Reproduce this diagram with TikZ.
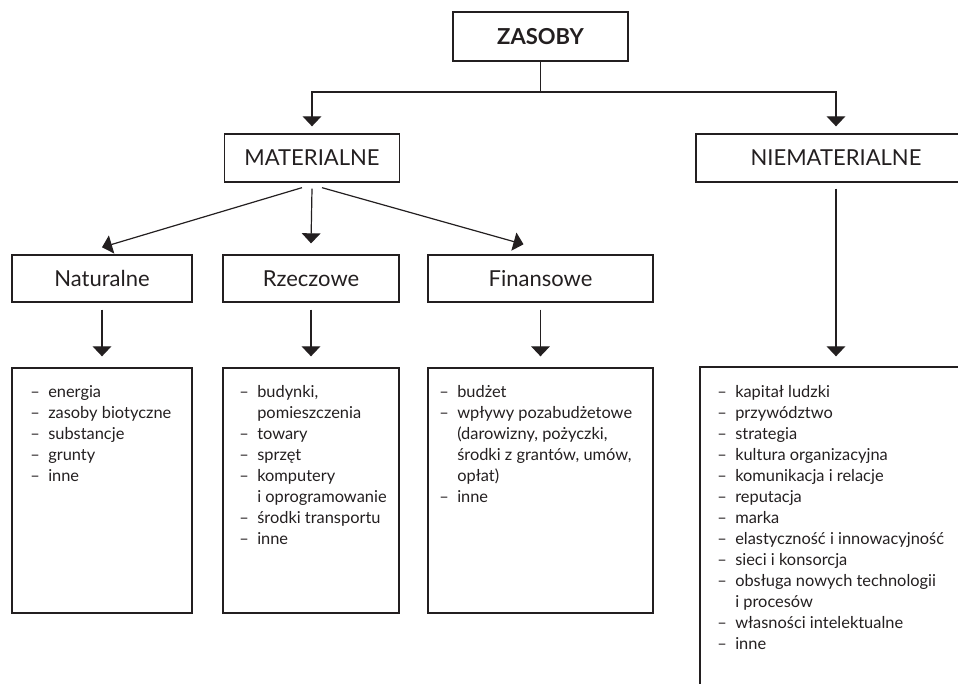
\documentclass[tikz,border=0pt]{standalone}
\usepackage{fontspec}
\setmainfont{Lato}
\usepackage{xcolor}
\usetikzlibrary{arrows.meta}
\newdimen\px \px=0.75pt
\definecolor{ink}{RGB}{35,31,32}

\begin{document}
\begin{tikzpicture}[x=0.75pt, y=-0.75pt,
  box/.style={draw=ink, line width=1pt, minimum height=48\px, inner sep=0pt, text=ink, font=\fontsize{16.5}{20}\selectfont},
  listbox/.style={draw=ink, line width=1pt, inner sep=0pt},
  items/.style={anchor=base west, inner sep=0pt, text=ink, font=\fontsize{12.3}{15.75}\selectfont},
  arr/.style={-{Triangle[width=14pt, length=7.5pt]}, line width=0.9pt, draw=ink}
]
\useasboundingbox (0,0) rectangle (958,684);
\clip (0,0) rectangle (958,684);

\node[box, minimum width=175\px, minimum height=49\px, font=\fontsize{16.5}{20}\selectfont\bfseries] (zas) at (540.5,36.5) {ZASOBY};
\node[box, minimum width=175\px] (mat) at (312,158) {MATERIALNE};
\node[box, minimum width=280\px] (niemat) at (836,158) {NIEMATERIALNE};
\node[box, minimum width=180\px, minimum height=47\px] (nat) at (102,278.5) {Naturalne};
\node[box, minimum width=176\px, minimum height=47\px] (rze) at (311,278.5) {Rzeczowe};
\node[box, minimum width=225\px, minimum height=47\px] (fin) at (540.5,278.5) {Finansowe};

\node[listbox, minimum width=180\px, minimum height=245\px] (natlist) at (102,490.5) {};
\node[listbox, minimum width=176\px, minimum height=245\px] (rzelist) at (311,490.5) {};
\node[listbox, minimum width=225\px, minimum height=245\px] (finlist) at (540.5,490.5) {};
\node[listbox, minimum width=300\px, minimum height=393\px] (nielist) at (850,563.5) {};

\node[items] (natitems) at (30,398) {\begin{tabular}[t]{@{}p{13.5pt}@{}l@{}}
– & energia\\
– & zasoby biotyczne\\
– & substancje\\
– & grunty\\
– & inne
\end{tabular}};
\node[items] (rzeitems) at (239,398) {\begin{tabular}[t]{@{}p{13.5pt}@{}l@{}}
– & budynki,\\
  & pomieszczenia\\
– & towary\\
– & sprzęt\\
– & komputery\\
  & i oprogramowanie\\
– & środki transportu\\
– & inne
\end{tabular}};
\node[items] (finitems) at (439,398) {\begin{tabular}[t]{@{}p{13.5pt}@{}l@{}}
– & budżet\\
– & wpływy pozabudżetowe\\
  & (darowizny, pożyczki,\\
  & środki z grantów, umów,\\
  & opłat)\\
– & inne
\end{tabular}};
\node[items] (nieitems) at (717,398) {\begin{tabular}[t]{@{}p{13.5pt}@{}l@{}}
– & kapitał ludzki\\
– & przywództwo\\
– & strategia\\
– & kultura organizacyjna\\
– & komunikacja i relacje\\
– & reputacja\\
– & marka\\
– & elastyczność i innowacyjność\\
– & sieci i konsorcja\\
– & obsługa nowych technologii\\
  & i procesów\\
– & własności intelektualne\\
– & inne
\end{tabular}};

\coordinate (split) at (540.5,92);
\draw[line width=0.9pt, draw=ink] (zas.south) -- (split);
\draw[arr] (split) -| ([yshift=7\px]mat.north);
\draw[arr] (split) -| ([yshift=7\px]niemat.north);

\draw[arr] ([xshift=-10\px,yshift=-5\px]mat.south) -- ([yshift=7\px]nat.north);
\draw[arr] ([yshift=-6\px]mat.south) -- ([yshift=11\px]rze.north);
\draw[arr] ([xshift=10\px,yshift=-5\px]mat.south) -- ([xshift=-17\px,yshift=10\px]fin.north);

\draw[arr] ([yshift=-7\px]nat.south) -- ([yshift=11\px]natlist.north);
\draw[arr] ([yshift=-7\px]rze.south) -- ([yshift=11\px]rzelist.north);
\draw[arr] ([yshift=-7\px]fin.south) -- ([yshift=11\px]finlist.north);
\draw[arr] ([yshift=-6\px]niemat.south) -- ([yshift=10\px]niemat.south |- nielist.north);
\end{tikzpicture}
\end{document}
